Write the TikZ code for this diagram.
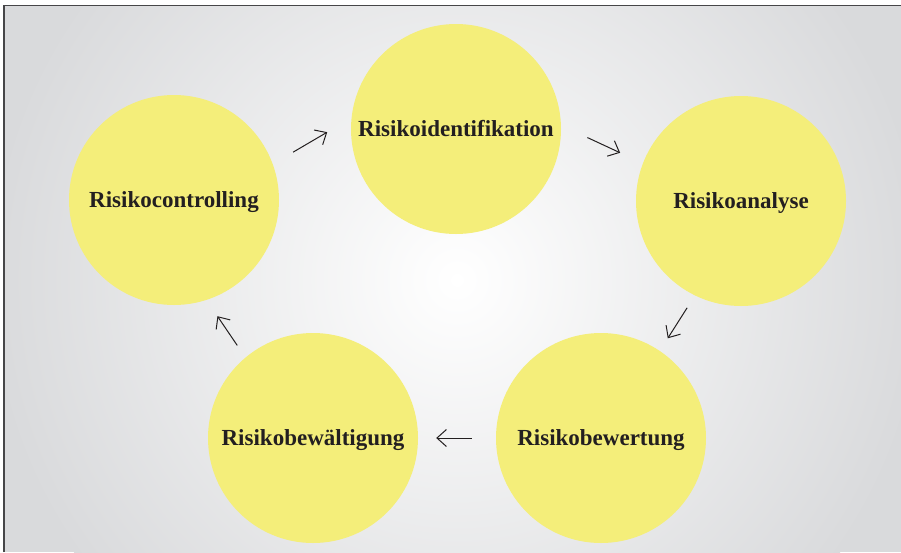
\documentclass[tikz,border=0pt]{standalone}
\usepackage{fontspec}
\setmainfont{Liberation Serif}
\usetikzlibrary{arrows.meta}
\definecolor{bggray}{RGB}{217,218,220}
\definecolor{circyellow}{RGB}{244,238,122}
\definecolor{txt}{RGB}{35,31,32}
\definecolor{framec}{RGB}{70,70,72}
\begin{document}
\begin{tikzpicture}[x=1pt,y=-1pt,
 stage/.style={circle,fill=circyellow,minimum size=210pt,inner sep=0pt,text height=15.6pt,text depth=0pt,font=\fontsize{23}{27}\selectfont\bfseries,text=txt},
 flow/.style={draw=txt,line width=1pt,-{Straight Barb[length=9.5pt,width=17pt]}}]
\useasboundingbox (0,0) rectangle (901,552);
\fill[white] (0,0) rectangle (901,552);
\begin{scope}
\clip (4,5.5) rectangle (901,552);
\fill[bggray] (4,5.5) rectangle (901,552);
\shade[inner color=white,outer color=bggray] (457,280) circle (470pt);
\end{scope}
\draw[framec,line width=1.5pt] (4,552) -- (4,5.5) -- (901,5.5);

\node[stage] (ident) at (456,129) {Risikoidentifikation};
\node[stage] (anal) at (741,201) {Risikoanalyse};
\node[stage] (bewe) at (601,438) {Risikobewertung};
\node[stage] (bewa) at (313,438) {Risikobewältigung};
\node[stage] (ctrl) at (174,200) {Risikocontrolling};

\draw[flow,shorten <=23.5pt,shorten >=28pt] (ctrl.20.4) -- (ident.174.7);
\draw[flow,shorten <=29pt,shorten >=25pt] (ident.2) -- (anal.159.9);
\draw[flow,shorten <=14.5pt,shorten >=14.8pt] (anal.244.8) -- (bewe.56.7);
\draw[flow,shorten <=24pt,shorten >=18pt] (bewe.180) -- (bewa.0);
\draw[flow,shorten <=14.5pt,shorten >=19.5pt] (bewa.130.6) -- (ctrl.288.6);
\end{tikzpicture}
\end{document}
